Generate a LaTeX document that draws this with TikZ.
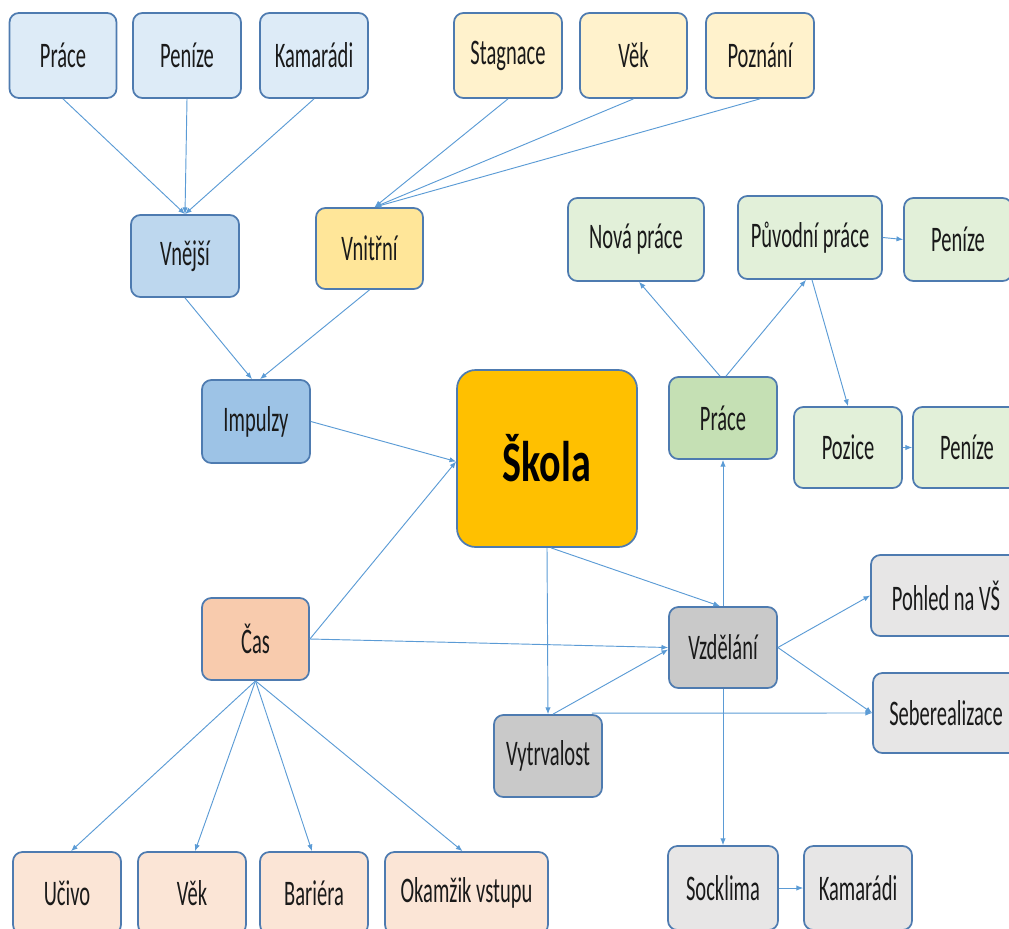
\documentclass[tikz,border=0pt]{standalone}
\usepackage{fontspec}
\setmainfont{Carlito}[FakeStretch=0.57]
\newfontfamily\skolafont{Carlito}[FakeStretch=0.7]
\usetikzlibrary{arrows.meta,calc}
\definecolor{bordc}{HTML}{4E7BB0}
\definecolor{arrc}{HTML}{5B9BD5}
\definecolor{txtc}{HTML}{1A1A1A}
\definecolor{blueL}{HTML}{DDEBF7}
\definecolor{blueM}{HTML}{BDD7EE}
\definecolor{blueD}{HTML}{9DC3E6}
\definecolor{yelL}{HTML}{FFF2CC}
\definecolor{yelM}{HTML}{FFE699}
\definecolor{gold}{HTML}{FFC000}
\definecolor{grnL}{HTML}{E2F0D9}
\definecolor{grnM}{HTML}{C5E0B4}
\definecolor{gryL}{HTML}{E7E6E6}
\definecolor{gryM}{HTML}{C9C9C9}
\definecolor{orgM}{HTML}{F8CBAD}
\definecolor{orgL}{HTML}{FBE5D6}
\begin{document}
\begin{tikzpicture}[x=0.75pt,y=-0.75pt,
  box/.style={draw=bordc, line width=1.3pt, rounded corners=7pt, inner sep=0pt,
    font=\fontsize{27pt}{30pt}\selectfont, text=txtc},
  sz/.style 2 args={minimum width=#1*0.75pt, minimum height=#2*0.75pt},
  arr/.style={-{Latex[length=5pt,width=4pt]}, draw=arrc, line width=0.7pt}]
\useasboundingbox (0,0) rectangle (1009,928);
\clip (0,0) rectangle (1009,928);
% top row blue
\node[box, fill=blueL, sz={107}{85}] (p1) at (63,55.5) {Práce};
\node[box, fill=blueL, sz={108}{85}] (p2) at (187,55.5) {Peníze};
\node[box, fill=blueL, sz={108}{85}] (p3) at (314,55.5) {Kamarádi};
% top row yellow
\node[box, fill=yelL, sz={108}{85}] (s1) at (508,55.5) {Stagnace};
\node[box, fill=yelL, sz={107}{85}] (s2) at (633.5,55.5) {Věk};
\node[box, fill=yelL, sz={108}{85}] (s3) at (760,55.5) {Poznání};
% second level
\node[box, fill=blueM, sz={108}{82}] (vnejsi) at (185,256) {Vnější};
\node[box, fill=yelM, sz={107}{81}] (vnitrni) at (369.5,248.5) {Vnitřní};
\node[box, fill=blueD, sz={108}{83}] (impulzy) at (256,421.5) {Impulzy};
% center
\node[box, fill=gold, sz={180}{177}, rounded corners=14pt,
  font=\skolafont\bfseries\fontsize{43pt}{48pt}\selectfont, text=black] (skola) at (547,458.5) {Škola};
% green
\node[box, fill=grnL, sz={136}{83}] (nova) at (636,239.5) {Nová práce};
\node[box, fill=grnL, sz={144}{83}] (puvodni) at (810,237.5) {Původní práce};
\node[box, fill=grnL, sz={108}{83}] (penize1) at (958,239.5) {Peníze};
\node[box, fill=grnM, sz={108}{82}] (prace2) at (723,418) {Práce};
\node[box, fill=grnL, sz={108}{81}] (pozice) at (848,447.5) {Pozice};
\node[box, fill=grnL, sz={108}{81}] (penize2) at (967,447.5) {Peníze};
% gray
\node[box, fill=gryM, sz={108}{81}] (vzdelani) at (723,647.5) {Vzdělání};
\node[box, fill=gryL, sz={150}{81}] (pohled) at (946,595.5) {Pohled na VŠ};
\node[box, fill=gryL, sz={146}{80}] (sebe) at (946,713) {Seberealizace};
\node[box, fill=gryM, sz={108}{82}] (vytrv) at (548,756) {Vytrvalost};
\node[box, fill=gryL, sz={110}{84}] (socklima) at (723,888) {Socklima};
\node[box, fill=gryL, sz={108}{84}] (kamaradi2) at (858,888) {Kamarádi};
% orange
\node[box, fill=orgM, sz={107}{82}] (cas) at (255.5,639) {Čas};
\node[box, fill=orgL, sz={108}{82}] (ucivo) at (67,893) {Učivo};
\node[box, fill=orgL, sz={108}{82}] (vek2) at (192,893) {Věk};
\node[box, fill=orgL, sz={108}{82}] (bariera) at (314,893) {Bariéra};
\node[box, fill=orgL, sz={163}{82}] (okamzik) at (466.5,893) {Okamžik vstupu};
% connectors
\draw[arr] (p1.south) -- (vnejsi.north);
\draw[arr] (p2.south) -- (vnejsi.north);
\draw[arr] (p3.south) -- (vnejsi.north);
\coordinate (vnin) at ($(vnitrni.north)+(5,0)$);
\draw[arr] (s1.south) -- (vnin);
\draw[arr] (s2.south) -- (vnin);
\draw[arr] (s3.south) -- (vnin);
\draw[arr] (vnejsi.south) -- ($(impulzy.north)+(-4,0)$);
\draw[arr] (vnitrni.south) -- ($(impulzy.north)+(4,0)$);
\coordinate (skw) at ($(skola.west)+(0,3)$);
\draw[arr] (impulzy.east) -- (skw);
\draw[arr] (cas.east) -- (skw);
\draw[arr] (cas.east) -- (vzdelani.west);
\draw[arr] ($(skola.south)+(4,0)$) -- ($(vzdelani.north)+(-3,0)$);
\draw[arr] (skola.south) -- (vytrv.north);
\draw[arr] ($(vytrv.north)+(5,0)$) -- ($(vzdelani.west)+(0,2)$);
\draw[arr] ($(vytrv.north east)+(-11,-1)$) -- (sebe.west);
\draw[arr] (vzdelani.east) -- (pohled.west);
\draw[arr] (vzdelani.east) -- (sebe.west);
\draw[arr] (vzdelani.north) -- (prace2.south);
\draw[arr] (vzdelani.south) -- (socklima.north);
\draw[arr] (socklima.east) -- (kamaradi2.west);
\draw[arr] ($(prace2.north)+(-3,0)$) -- ($(nova.south)+(3,0)$);
\draw[arr] ($(prace2.north)+(3,0)$) -- ($(puvodni.south)+(-4,0)$);
\draw[arr] ($(puvodni.south)+(2,0)$) -- (pozice.north);
\draw[arr] (puvodni.east) -- (penize1.west);
\draw[arr] (pozice.east) -- (penize2.west);
\draw[arr] (cas.south) -- ($(ucivo.north)+(4,0)$);
\draw[arr] (cas.south) -- ($(vek2.north)+(3,0)$);
\draw[arr] (cas.south) -- ($(bariera.north)+(-2,0)$);
\draw[arr] (cas.south) -- ($(okamzik.north)+(-4,0)$);
\end{tikzpicture}
\end{document}
